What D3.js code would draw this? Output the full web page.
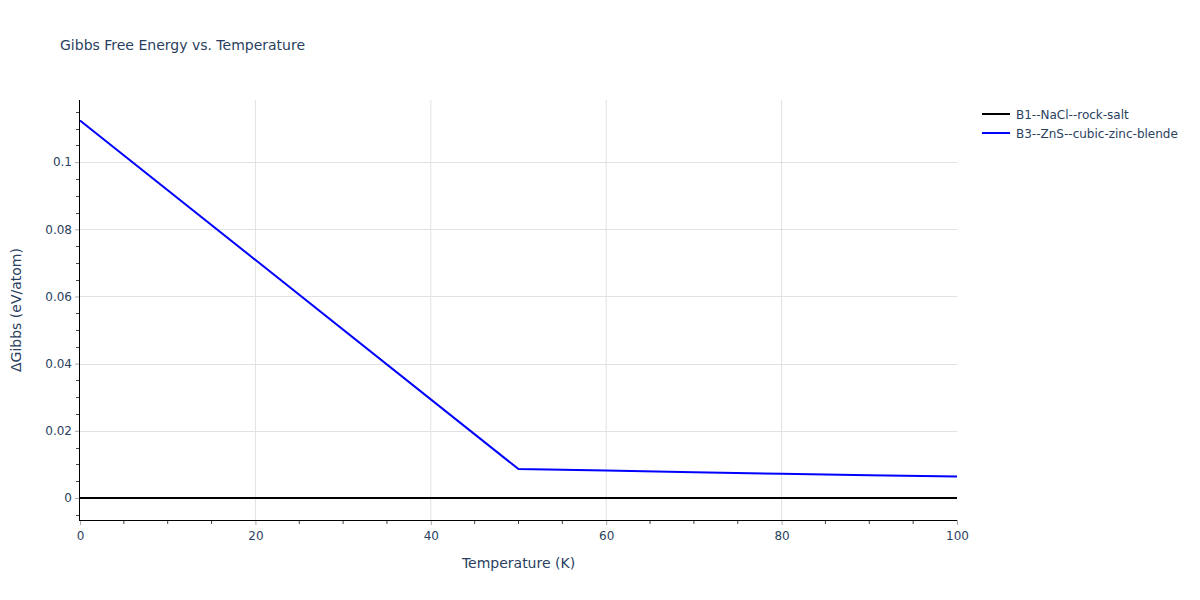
<!DOCTYPE html>
<html><head><meta charset="utf-8">
<script src="https://cdn.jsdelivr.net/npm/d3@7"></script>
<style>body{margin:0;background:#fff}text{font-family:"DejaVu Sans",Verdana,Arial,sans-serif}</style>
</head><body>
<svg id="c" width="1200" height="600"></svg>
<script>
const seriesNames = ["B1--NaCl--rock-salt", "B3--ZnS--cubic-zinc-blende"];
const seriesColors = ["#000000", "#0000ff"];
const b1Temps = [0, 100];
const b1Values = [0, 0];
const b3Temps = [0, 50, 60, 70, 80, 90, 100];
const b3Values = [0.1124, 0.0086, 0.0082, 0.0077, 0.0072, 0.0068, 0.0064];
const xTicks = [0, 20, 40, 60, 80, 100];
const yTicks = [0, 0.02, 0.04, 0.06, 0.08, 0.1];

const svg = d3.select("#c");
const L = 80, R = 957, T = 100, B = 520;
const x = d3.scaleLinear().domain([0, 100]).range([L, R]);
const y = d3.scaleLinear().domain([-0.00655, 0.1185]).range([B, T]);
const fc = "#2a3f5f";

// grid
svg.append("g").selectAll("line").data(xTicks.filter(d => d > 0 && d < 100)).join("line")
  .attr("x1", d => x(d)).attr("x2", d => x(d)).attr("y1", T).attr("y2", B)
  .attr("stroke", "#e1e1e1").attr("stroke-width", 1);
svg.append("g").selectAll("line").data(yTicks).join("line")
  .attr("x1", L).attr("x2", R).attr("y1", d => Math.round(y(d)) + 0.5).attr("y2", d => Math.round(y(d)) + 0.5)
  .attr("stroke", "#e1e1e1").attr("stroke-width", 1);

// axes
const xMinor = d3.range(0, 101, 5).filter(d => d % 20 !== 0);
const yMinor = d3.range(-0.005, 0.1186, 0.005).map(v => +v.toFixed(3)).filter(v => Math.abs(v / 0.02 - Math.round(v / 0.02)) > 1e-6);

const xAxis = svg.append("g").attr("transform", `translate(0,${B})`)
  .call(d3.axisBottom(x).tickValues(xTicks).tickSize(5).tickPadding(6).tickFormat(d3.format("d")));
xAxis.select(".domain").remove();
xAxis.selectAll("line").attr("stroke", "#aaa");
xAxis.selectAll("text").attr("fill", fc).style("font-size", "12px");
svg.append("g").selectAll("line").data(xMinor).join("line")
  .attr("x1", d => x(d)).attr("x2", d => x(d)).attr("y1", B).attr("y2", B + 4).attr("stroke", "#444");
svg.append("line").attr("x1", L - 1).attr("x2", R).attr("y1", B + 0.5).attr("y2", B + 0.5).attr("stroke", "#000");

const yAxis = svg.append("g").attr("transform", `translate(${L},0)`)
  .call(d3.axisLeft(y).tickValues(yTicks).tickSize(5).tickPadding(3).tickFormat(d => d === 0 ? "0" : d3.format("~g")(d)));
yAxis.select(".domain").remove();
yAxis.selectAll("line").attr("stroke", "#aaa");
yAxis.selectAll("text").attr("fill", fc).style("font-size", "12px");
svg.append("g").selectAll("line").data(yMinor).join("line")
  .attr("x1", L - 4).attr("x2", L).attr("y1", d => Math.round(y(d)) + 0.5).attr("y2", d => Math.round(y(d)) + 0.5).attr("stroke", "#444");
svg.append("line").attr("x1", L - 0.5).attr("x2", L - 0.5).attr("y1", T).attr("y2", B + 1).attr("stroke", "#000");

// lines
const line = d3.line().x(d => x(d[0])).y(d => y(d[1]));
const data = [d3.zip(b1Temps, b1Values), d3.zip(b3Temps, b3Values)];
svg.append("g").selectAll("path").data(data).join("path")
  .attr("d", line).attr("fill", "none").attr("stroke", (d, i) => seriesColors[i]).attr("stroke-width", 2);

// titles
svg.append("text").attr("x", 60).attr("y", 50).attr("fill", fc).style("font-size", "14px").text("Gibbs Free Energy vs. Temperature");
svg.append("text").attr("x", (L + R) / 2).attr("y", 568).attr("text-anchor", "middle").attr("fill", fc).style("font-size", "14px").text("Temperature (K)");
svg.append("text").attr("transform", `translate(21,${(T + B) / 2}) rotate(-90)`).attr("text-anchor", "middle").attr("fill", fc).style("font-size", "14px").text("ΔGibbs (eV/atom)");

// legend
const lg = svg.append("g").selectAll("g").data(seriesNames).join("g")
  .attr("transform", (d, i) => `translate(982,${114 + i * 19})`);
lg.append("line").attr("x1", 0).attr("x2", 28).attr("stroke", (d, i) => seriesColors[i]).attr("stroke-width", 2);
lg.append("text").attr("x", 34).attr("y", 4.5).attr("fill", fc).style("font-size", "12px").text(d => d);
</script>
</body></html>
